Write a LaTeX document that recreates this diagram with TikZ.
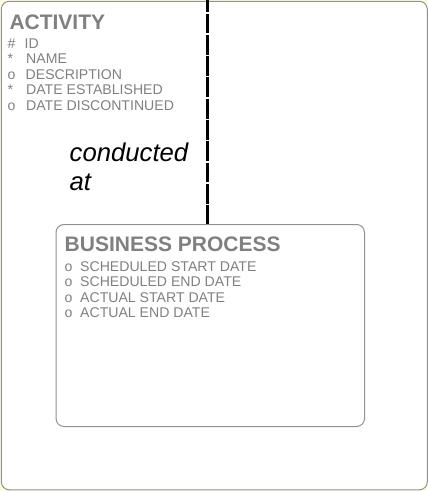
\documentclass[tikz,border=0pt]{standalone}
\usepackage{fontspec}
\setmainfont{Liberation Sans}
\definecolor{bgyellow}{RGB}{255,255,224}
\definecolor{boxline}{RGB}{145,145,145}
\definecolor{txtgray}{RGB}{128,128,128}
\begin{document}
\begin{tikzpicture}[x=1pt,y=-1pt,
  box/.style={draw=boxline, line width=1pt, fill=white, rounded corners=8pt, inner sep=0pt},
  title/.style={anchor=base west, inner sep=0pt, font=\bfseries\fontsize{21}{24}\selectfont, text=txtgray},
  attr/.style={anchor=base west, inner sep=0pt, font=\fontsize{14.1}{15.5}\selectfont, text=txtgray},
  rel/.style={anchor=base west, inner sep=0pt, font=\itshape\fontsize{25.7}{29}\selectfont, text=black},
  link/.style={line width=3pt, dash pattern=on 19.8pt off 1.5pt, dash phase=7.8pt}]
\fill[bgyellow] (0,0) rectangle (428,491);
\useasboundingbox (0,0) rectangle (428,491);
% outer entity
\node[box, minimum width=426pt, minimum height=488.5pt, anchor=north west] (act) at (0.8,0.8) {};
\node[title] (actname) at (9.3,29) {ACTIVITY};
\node[attr] (a1) at (7.5,48) {\makebox[17pt][l]{\#}ID};
\node[attr] (a2) at (7.5,63.5) {\makebox[18.5pt][l]{*}NAME};
\node[attr] (a3) at (7.5,79) {\makebox[18pt][l]{o}DESCRIPTION};
\node[attr] (a4) at (7.5,94.5) {\makebox[18.5pt][l]{*}DATE ESTABLISHED};
\node[attr] (a5) at (7.5,110) {\makebox[18.5pt][l]{o}DATE DISCONTINUED};
% inner entity
\node[box, minimum width=308.5pt, minimum height=202pt, anchor=north west] (bp) at (55.5,224) {};
\node[title] (bpname) at (64.5,251) {BUSINESS PROCESS};
\node[attr] (b1) at (64.5,271) {\makebox[15.5pt][l]{o}SCHEDULED START DATE};
\node[attr] (b2) at (64.5,286.6) {\makebox[15.5pt][l]{o}SCHEDULED END DATE};
\node[attr] (b3) at (64.5,302.2) {\makebox[15.5pt][l]{o}ACTUAL START DATE};
\node[attr] (b4) at (64.5,317.8) {\makebox[15.5pt][l]{o}ACTUAL END DATE};
% relationship
\coordinate (top) at (207,0);
\draw[link] (top) -- (top |- bp.north);
\node[rel] (r1) at (69.5,161) {conducted};
\node[rel] (r2) at (69.5,190) {at};
\end{tikzpicture}
\end{document}
